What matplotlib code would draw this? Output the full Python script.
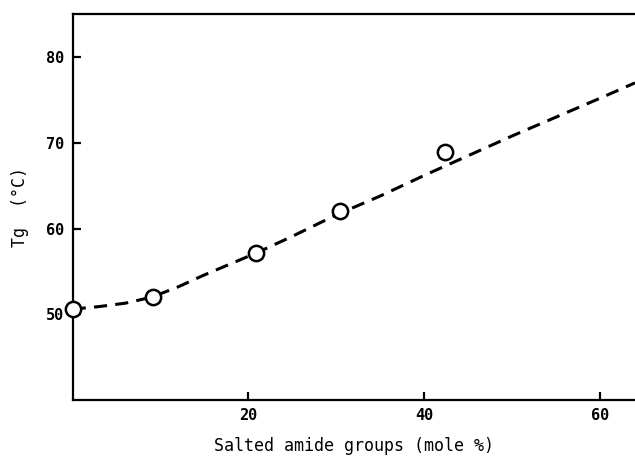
import matplotlib
matplotlib.use("Agg")
import matplotlib.pyplot as plt

# measured points (salted amide mole %, Tg in C)
x_pts = [0.0, 9.1, 20.9, 30.4, 42.4]
tg_pts = [50.6, 52.0, 57.2, 62.1, 68.9]

# dashed trend curve
x_curve = [0, 3, 6, 9, 12, 15, 18, 21, 25, 30, 35, 40, 45, 50, 55, 60, 64]
tg_curve = [50.6, 50.9, 51.3, 52.0, 53.2, 54.6, 55.9, 57.2, 59.1, 61.6,
            63.8, 66.2, 68.5, 70.8, 73.0, 75.2, 77.0]

x_ticks = [20, 40, 60]
y_ticks = [50, 60, 70, 80]

plt.rcParams['font.family'] = 'DejaVu Sans Mono'

fig = plt.figure(figsize=(6.35, 4.57), dpi=100)
ax = fig.add_axes([0.1145, 0.1247, 0.8855, 0.844])

ax.plot(x_curve, tg_curve, color='black', lw=2.2, dashes=(4.3, 2.7),
        zorder=2)
ax.plot(x_pts, tg_pts, 'o', ms=11, mfc='white', mec='black', mew=1.8,
        zorder=3, clip_on=False)

ax.set_xlim(0, 64)
ax.set_ylim(40, 85)
ax.set_xticks(x_ticks)
ax.set_yticks(y_ticks)
ax.tick_params(direction='in', length=6, width=1.6, labelsize=11, pad=6)
for lab in ax.get_xticklabels() + ax.get_yticklabels():
    lab.set_fontweight('bold')

for side in ['left', 'bottom', 'top']:
    ax.spines[side].set_linewidth(1.6)
ax.spines['right'].set_visible(False)

ax.set_xlabel('Salted amide groups (mole %)', fontsize=12, labelpad=10)
ax.set_ylabel('Tg  (°C)', fontsize=12, labelpad=12)

fig.savefig('out.png', dpi=100)
